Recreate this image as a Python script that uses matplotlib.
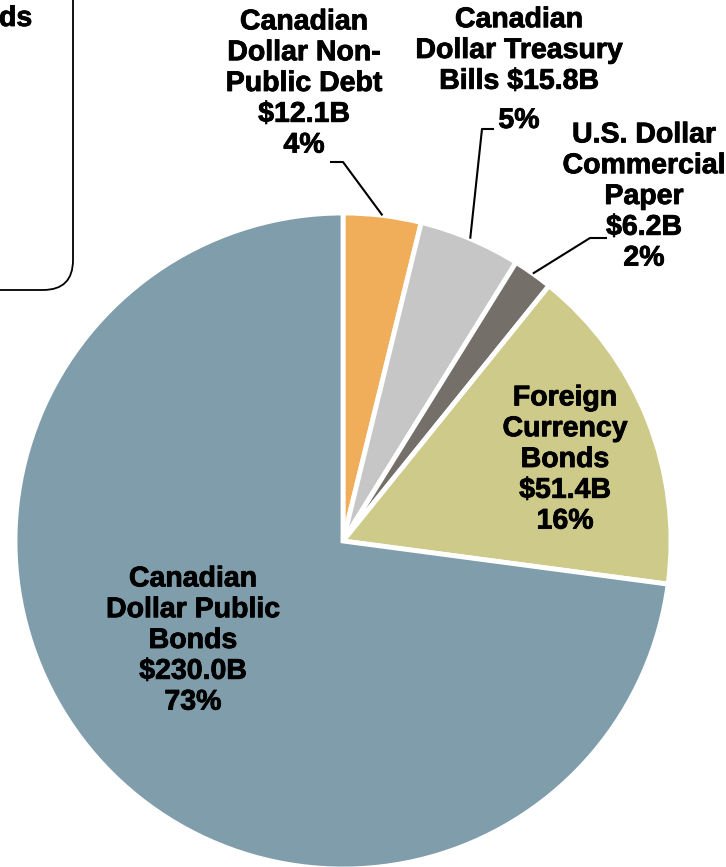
import matplotlib
matplotlib.use("Agg")
import matplotlib.pyplot as plt
import matplotlib.patheffects as pe
from matplotlib.patches import FancyBboxPatch
import numpy as np

plt.rcParams['font.family'] = ['Liberation Sans', 'DejaVu Sans']

# Debt composition, in billions of dollars (clockwise from 12 o'clock)
categories = [
    "Canadian\nDollar Non-\nPublic Debt",
    "Canadian\nDollar Treasury\nBills",
    "U.S. Dollar\nCommercial\nPaper",
    "Foreign\nCurrency\nBonds",
    "Canadian\nDollar Public\nBonds",
]
values = [12.1, 15.8, 6.2, 51.4, 230.0]
colors = ["#F0AE5A", "#C6C6C6", "#747069", "#CECA8A", "#7F9DAB"]

W, H = 726, 867
fig = plt.figure(figsize=(W / 100, H / 100), dpi=100)
ax = fig.add_axes([0, 0, 1, 1])

cx, cy, R = 343, H - 541, 328
wedges, _ = ax.pie(values, colors=colors, startangle=90, counterclock=False,
                   center=(cx, cy), radius=R, frame=True,
                   wedgeprops=dict(edgecolor="white", linewidth=3.5))
ax.set_xlim(0, W)
ax.set_ylim(0, H)
ax.axis("off")

total = sum(values)

def label(i):
    v = values[i]
    return f"${v:.1f}B", f"{round(v / total * 100)}%"

fs = 20.5
kw = dict(fontsize=fs, fontweight="bold", ha="center", va="center",
          linespacing=1.24, color="black",
          path_effects=[pe.withStroke(linewidth=0.6, foreground="black")])

def py(y):
    return H - y

# Inside labels
amt, pct = label(3)
ax.text(565, py(460), f"{categories[3]}\n{amt}\n{pct}", **kw)
amt, pct = label(4)
ax.text(193, py(641), f"{categories[4]}\n{amt}\n{pct}", **kw)

# Outside labels with leader lines
amt, pct = label(0)
ax.text(304, py(84), f"{categories[0]}\n{amt}\n{pct}", **kw)
amt, pct = label(1)
ax.text(519, py(51), categories[1].replace("\nBills", "\nBills " + amt), **kw)
ax.text(519, py(121), pct, **kw)
amt, pct = label(2)
ax.text(644, py(197), f"{categories[2]}\n{amt}\n{pct}", **kw)

def edge_point(i):
    w = wedges[i]
    a = np.deg2rad((w.theta1 + w.theta2) / 2)
    return cx + R * np.cos(a), cy + R * np.sin(a)

leaders = [
    (0, [(330, 162), (343, 162)]),
    (1, [(494, 129), (482, 129)]),
    (2, [(607, 238), (590, 238)]),
]
for i, pts in leaders:
    ex, ey = edge_point(i)
    xs = [p[0] for p in pts] + [ex]
    ys = [py(p[1]) for p in pts] + [ey]
    ax.plot(xs, ys, color="black", lw=1.5, solid_capstyle="butt")

# Partially visible note box at the top left
box = FancyBboxPatch((-60, py(290)), 133, 400,
                     boxstyle="round,pad=0,rounding_size=30",
                     facecolor="white", edgecolor="black", lw=1.3,
                     clip_on=False)
ax.add_patch(box)
ax.text(-1, py(19), "ds", fontsize=fs, fontweight="bold",
        ha="left", va="center",
        path_effects=[pe.withStroke(linewidth=0.6, foreground="black")])

fig.savefig("out.png", dpi=100)
